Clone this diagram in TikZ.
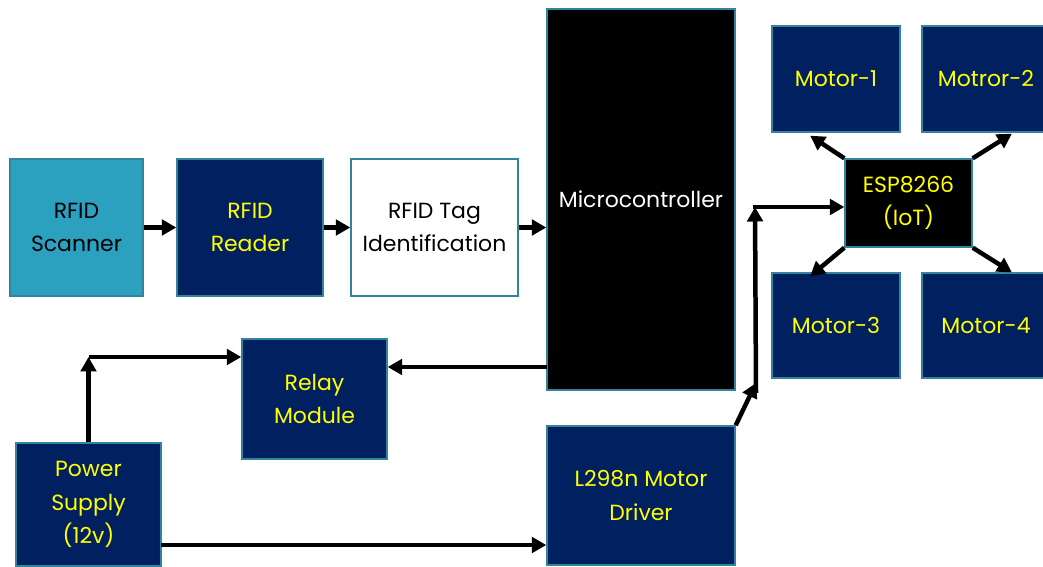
\documentclass[tikz,border=0pt]{standalone}
\usepackage{fontspec}
\setmainfont{Poppins}
\usepackage{xcolor}
\usepackage{tikz}
\usetikzlibrary{arrows.meta,calc}
\definecolor{navy}{HTML}{002060}
\definecolor{tealedge}{HTML}{31849B}
\definecolor{scanfill}{HTML}{2CA1BF}
\definecolor{txtyellow}{HTML}{FFFF00}
\tikzset{
every picture/.style={x=0.02cm, y=-0.02cm},
%%%%%%%%%%  Node styles
unit/.style={draw=tealedge, line width=0.8pt, inner sep=0pt, align=center,
             font=\fontsize{12.5}{19}\selectfont},
navyunit/.style={unit, fill=navy, text=txtyellow},
darkunit/.style={unit, fill=black},
%%%%%%% thick block arrows
arr/.style={line width=0.09cm, -{Triangle[length=0.29cm,width=0.31cm]}},
short_arr/.style={line width=0.11cm, -{Triangle[length=0.29cm,width=0.31cm]}}
}

\begin{document}
\begin{tikzpicture}
\useasboundingbox (0,0) rectangle (1043,567);
%%rfid chain
\node[unit, fill=scanfill, text=black, minimum width=2.66cm, minimum height=2.74cm]
	(scanner) at (76.5,227.5) {RFID\\Scanner};
\node[navyunit, minimum width=2.92cm, minimum height=2.74cm]
	(reader) at (250,227.5) {RFID\\Reader};
\node[unit, fill=white, text=black, minimum width=3.34cm, minimum height=2.74cm]
	(tagid) at (434.5,227.5) {RFID Tag\\Identification};
%%controller
\node[darkunit, text=white, minimum width=3.76cm, minimum height=7.62cm]
	(mcu) at (641,199.5) {Microcontroller};
%%lower row
\node[navyunit, minimum width=2.9cm, minimum height=2.4cm]
	(relay) at (314.5,399) {Relay\\Module};
\node[navyunit, minimum width=2.9cm, minimum height=2.46cm]
	(power) at (88.5,504.5) {Power\\Supply\\(12v)};
\node[navyunit, minimum width=3.76cm, minimum height=2.78cm]
	(driver) at (641,495.5) {L298n Motor\\Driver};
%%iot side
\node[darkunit, text=txtyellow, minimum width=2.54cm, minimum height=1.76cm]
	(esp) at (908.5,203) {ESP8266\\(IoT)};
\node[navyunit, minimum width=2.56cm, minimum height=2.12cm]
	(m1) at (836,79) {Motor-1};
\node[navyunit, minimum width=2.56cm, minimum height=2.12cm]
	(m2) at (986,79) {Motror-2};
\node[navyunit, minimum width=2.56cm, minimum height=2.1cm]
	(m3) at (836,325.5) {Motor-3};
\node[navyunit, minimum width=2.56cm, minimum height=2.1cm]
	(m4) at (986,325.5) {Motor-4};
%%%%%%%%%%%%%%%%%%%%%%%
%%rfid arrows
\draw[short_arr] (scanner) -- (reader);
\draw[short_arr] (reader) -- (tagid);
\draw[short_arr] (tagid.east) -- (tagid.east -| mcu.west);
%%controller to relay
\coordinate (mr) at (547,367);
\draw[arr] (mr) -- (relay.east |- mr);
%%power lines
\coordinate (pcorner) at (88.5,357);
\draw[arr] (power.north) -- (pcorner);
\draw[arr] (pcorner) -- (relay.west |- pcorner);
\coordinate (pd) at (161,545);
\draw[arr] (pd) -- (driver.west |- pd);
%%driver up to esp
\coordinate (bend1) at (756,383);
\coordinate (bend2) at (755,207);
\draw[arr] (driver.north east) -- (bend1);
\draw[arr] ($(bend1)+(0,10)$) -- (bend2);
\draw[line width=0.09cm] (bend2) -- ++(2,0);
\draw[arr] ($(bend2)+(-2,0)$) -- (esp.west |- bend2);
%%esp to motors
\draw[arr] (esp.north west) -- ($(m1.south west)!0.3!(m1.south east)+(0,3)$);
\draw[arr] (esp.north east) -- ($(m2.south west)!0.7!(m2.south east)+(0,1)$);
\draw[arr] (esp.south west) -- ($(m3.north west)!0.3!(m3.north east)+(0,4)$);
\draw[arr] (esp.south east) -- ($(m4.north west)!0.7!(m4.north east)$);
\end{tikzpicture}
\end{document}
